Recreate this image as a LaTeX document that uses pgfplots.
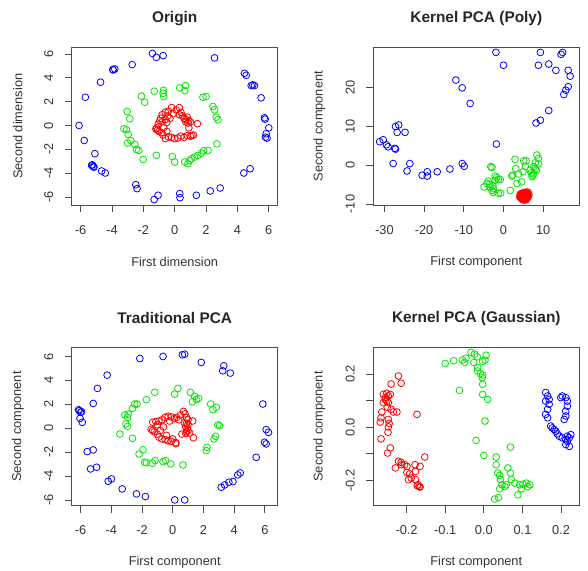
\documentclass[border=0pt]{standalone}
\usepackage{pgfplots}
\pgfplotsset{compat=1.18}
\usepackage{fontspec}
\setmainfont{Liberation Sans}

\definecolor{rblue}{RGB}{0,0,255}
\definecolor{rgreen}{RGB}{0,230,0}
\definecolor{rred}{RGB}{255,0,0}

\pgfplotsset{
  rplot/.style={
    scale only axis, width=206pt, height=158pt,
    axis line style={black!70, line width=0.7pt},
    tick align=outside, major tick length=7pt,
    tick style={black!70, line width=0.7pt},
    xtick pos=bottom, ytick pos=left,
    minor tick num=0,
    font=\fontsize{12.8}{15}\selectfont,
    /pgf/number format/assume math mode=true,
    ticklabel style={text=black!80},
    xticklabel style={anchor=center}, xticklabel shift=18pt,
    yticklabel style={anchor=center, rotate=90}, yticklabel shift=16pt,
    every axis title/.style={at={(axis description cs:0.5,1.184)}, anchor=center,
      font=\fontsize{15.4}{18}\selectfont\bfseries, text=black!85},
    every axis x label/.style={at={(axis description cs:0.5,-0.361)}, anchor=center, text=black!80},
    every axis y label/.style={at={(axis description cs:-0.262,0.5)}, anchor=center, rotate=90, text=black!80},
  },
  rpt/.style={only marks, mark=o, mark size=3.4pt, mark options={line width=0.8pt}},
}

\begin{document}
\begin{tikzpicture}
\useasboundingbox (0pt,0pt) rectangle (588pt,570pt);

% ---- Origin
\begin{axis}[rplot, at={(71.7pt,364.7pt)}, anchor=south west,
  xmin=-6.57, xmax=6.57, ymin=-6.70, ymax=6.56,
  xtick={-6,-4,-2,0,2,4,6}, xticklabels={-6,-4,-2,0,2,4,6},
  ytick={-6,-4,-2,0,2,4,6}, yticklabels={-6,-4,-2,0,2,4,6},
  title={Origin}, xlabel={First dimension}, ylabel={Second dimension}]
\addplot[rpt, rred] coordinates {
(-1.2,-0.3) (-1.1,-0.4) (-1.15,-0.2) (-1.0,-0.5) (-1.05,0.1) (-0.95,0.4) (-0.9,0.6)
(-0.8,0.9) (-0.6,1.1) (-0.4,1.2) (-0.2,1.5) (-0.1,1.0) (0.1,1.3) (0.3,1.5) (0.4,1.1)
(0.5,0.8) (0.6,0.6) (0.7,0.5) (0.8,0.7) (0.9,0.4) (1.0,0.3) (0.85,0.2) (0.7,0.3)
(1.45,0.15) (0.9,-0.2) (1.2,-0.8) (1.0,-0.9) (0.8,-0.85) (0.6,-1.0) (0.4,-0.9)
(0.2,-1.05) (0.0,-1.1) (-0.2,-1.0) (-0.4,-0.95) (-0.6,-1.1) (-0.75,-0.8) (-0.85,-0.6)
(-0.7,-0.2) (-0.5,0.25) (-0.6,0.5) (-0.3,0.6) (-0.8,0.3) (-0.5,-0.5) (1.1,-0.85)
(0.3,0.9) (-0.45,0.8)
};
\addplot[rpt, rgreen] coordinates {
(-3.03,1.17) (-2.86,0.56) (-3.24,-0.28) (-3.07,-0.36) (-2.97,-0.75) (-3.01,-1.48)
(-2.8,-1.26) (-2.54,-1.59) (-2.44,-2.01) (-2.29,-2.09) (-2.12,2.46) (-1.91,1.95)
(-2.01,-2.85) (-1.31,2.87) (-0.74,2.7) (-0.7,2.43) (-0.72,2.95) (-1.17,-2.51)
(-0.15,-2.6) (0.0,-3.07) (0.32,3.15) (0.7,3.35) (0.64,2.93) (0.64,-3.07) (0.85,-3.21)
(1.06,-2.79) (1.27,-2.65) (1.48,-2.51) (1.7,-2.32) (2.12,-2.09) (1.84,-2.12)
(1.8,2.37) (2.0,2.43) (2.44,1.59) (2.54,1.31) (2.65,0.7) (2.76,0.47) (2.69,-1.54)
(0.95,-2.95)
};
\addplot[rpt, rblue] coordinates {
(-6.1,0.0) (-5.77,-1.26) (-5.7,2.37) (-5.09,-2.37) (-5.3,-3.35) (-5.2,-3.45)
(-5.15,-3.5) (-5.25,-3.3) (-4.73,3.63) (-4.66,-3.82) (-4.43,-3.99) (-3.92,4.66)
(-3.82,4.74) (-3.95,4.7) (-2.71,5.11) (-2.48,-4.97) (-2.4,-5.3) (-1.42,6.05)
(-1.17,5.72) (-0.74,5.86) (-1.31,-6.22) (-1.06,-5.86) (0.32,-5.72) (0.34,-6.06)
(1.38,-5.86) (2.27,-5.5) (2.9,-5.25) (2.54,5.67) (4.45,4.38) (4.56,4.21) (4.88,3.35)
(5.09,3.35) (4.98,3.4) (5.51,2.32) (5.72,0.64) (5.77,0.53) (6.0,-0.2) (5.83,-0.7)
(5.79,-0.98) (5.89,-1.06) (4.81,-3.63) (4.41,-3.99)
};
\end{axis}

% ---- Kernel PCA (Poly)
\begin{axis}[rplot, at={(373.3pt,364.7pt)}, anchor=south west,
  xmin=-32.8, xmax=19.1, ymin=-10.3, ymax=30.2,
  xtick={-30,-20,-10,0,10}, xticklabels={-30,-20,-10,0,10},
  ytick={-10,0,10,20}, yticklabels={-10,0,10,20},
  title={Kernel PCA (Poly)}, xlabel={First component}, ylabel={Second component}]
\addplot[rpt, rred] coordinates {
(4.2,-7.5) (4.5,-7.8) (4.8,-8.1) (5.0,-7.6) (5.3,-7.9) (5.5,-8.3) (5.8,-7.8) (6.0,-7.3)
(6.2,-7.0) (5.6,-7.2) (4.4,-8.4) (4.7,-8.7) (5.1,-8.8) (5.4,-8.6) (5.7,-8.9) (6.0,-8.5)
(6.3,-8.0) (4.9,-7.2) (5.2,-7.0) (4.3,-8.0) (4.6,-8.2) (5.0,-8.4) (5.5,-7.5) (5.9,-8.2)
(6.1,-7.7) (4.8,-7.9) (5.3,-8.2) (5.6,-8.0) (4.5,-7.3) (5.8,-6.9) (4.1,-8.2) (4.9,-8.9)
(5.2,-8.5) (5.7,-8.5) (6.4,-7.5) (5.1,-7.8) (4.7,-7.5) (5.4,-7.3) (6.0,-8.0) (5.3,-8.9)
};
\addplot[rpt, rgreen] coordinates {
(-2.9,-0.6) (2.9,1.5) (5.1,1.1) (5.7,1.1) (8.4,2.6) (8.8,1.7) (8.0,0.6) (8.8,0.3)
(7.6,-0.4) (8.3,-1.3) (7.6,-2.2) (7.2,-3.0) (3.8,-2.3) (4.9,-1.7) (5.5,-0.3)
(3.4,-4.7) (4.6,-4.3) (1.7,-6.5) (-0.8,-3.7) (-2.1,-2.8) (-1.7,-3.2) (-1.3,-3.7)
(-4.2,-4.7) (-3.8,-4.1) (-3.4,-5.6) (-2.9,-6.5) (-2.5,-6.0) (-1.3,-7.2) (-0.7,-7.2)
(-2.1,-3.9) (-2.7,-5.2) (6.7,-1.3) (7.4,-2.6) (2.1,-2.8) (-3.2,-0.4) (2.3,-2.6)
(3.1,-0.9) (-2.6,-7.0) (-4.9,-5.6) (7.0,-2.0) (8.0,-0.9) (-3.5,-4.9)
};
\addplot[rpt, rblue] coordinates {
(-1.9,28.9) (0,25.6) (9.3,28.9) (8.8,25.6) (11.4,25.9) (13.2,24.3) (14.5,28.4)
(14.9,28.9) (16.3,24.3) (16.8,22.8) (16.3,20.1) (15.7,19.2) (15.2,18.1) (11.4,14.0)
(9.3,11.5) (8.2,10.8) (-12.0,21.8) (-10.4,19.8) (-8.4,15.8) (-1.8,5.4)
(-27.2,9.9) (-26.4,10.3) (-26.8,8.4) (-24.8,8.4) (-31.2,6.0) (-30.3,6.5) (-29.5,5.2)
(-29.1,4.7) (-27.2,4.1) (-27.4,4.3) (-27.8,0.4) (-23.6,0.4) (-24.3,-1.5) (-20.5,-2.6)
(-19.2,-1.7) (-19.2,-2.8) (-16.7,-1.7) (-13.5,-1.0) (-10.4,0.4) (-9.9,-0.3)
};
\end{axis}

% ---- Traditional PCA
\begin{axis}[rplot, at={(71.7pt,64.5pt)}, anchor=south west,
  xmin=-6.58, xmax=6.84, ymin=-6.47, ymax=6.75,
  xtick={-6,-4,-2,0,2,4,6}, xticklabels={-6,-4,-2,0,2,4,6},
  ytick={-6,-4,-2,0,2,4,6}, yticklabels={-6,-4,-2,0,2,4,6},
  title={Traditional PCA}, xlabel={First component}, ylabel={Second component}]
\addplot[rpt, rred] coordinates {
(-1.3,0.5) (-1.1,0.55) (-0.9,0.6) (-0.7,0.7) (-0.5,0.9) (-0.3,1.0) (-0.1,0.95) (0.1,0.8)
(0.25,0.9) (0.5,1.1) (0.7,1.4) (0.8,1.2) (0.9,0.9) (1.0,0.7) (1.3,0.6) (0.9,0.4)
(0.85,0.1) (0.95,0.0) (1.0,-0.2) (0.9,-0.3) (0.85,-0.45) (1.1,-0.4) (1.35,-0.8)
(-1.4,-0.1) (-1.3,-0.2) (-1.2,-0.3) (-1.0,-0.5) (-0.9,-0.75) (-0.7,-0.9) (-0.5,-0.95)
(-0.3,-1.05) (-0.1,-1.1) (0.2,-1.2) (-0.8,-0.2) (-0.6,0.1) (-1.0,0.3) (0.4,0.7)
(0.6,-0.5) (1.0,0.3) (0.75,0.45) (-0.4,-0.6) (0.0,-0.9) (-0.2,0.6) (0.2,-1.3)
};
\addplot[rpt, rgreen] coordinates {
(-3.44,-0.49) (-3.12,1.1) (-2.9,1.18) (-2.94,0.9) (-3.05,0.35) (-2.94,0.15) (-2.62,-0.85)
(-2.62,1.66) (-2.47,2.02) (-2.32,2.02) (-1.71,2.38) (-1.17,3.0) (-2.19,-2.16)
(-1.93,-1.8) (-1.82,-2.85) (-1.71,-2.9) (-1.32,-2.94) (-1.15,-2.71) (-0.63,-2.8)
(-0.46,-2.71) (-0.13,-2.99) (0.67,-3.08) (0.13,2.85) (0.34,3.33) (1.15,3.0) (1.43,2.66)
(1.69,2.49) (1.28,2.21) (2.47,2.02) (2.62,1.55) (2.84,1.74) (2.94,0.27) (3.05,0.21)
(2.79,-0.68) (2.69,-0.9) (2.23,-1.6) (2.19,-1.88) (1.55,2.4)
};
\addplot[rpt, rblue] coordinates {
(-6.09,1.46) (-6.0,1.32) (-6.13,1.54) (-5.94,1.38) (-6.04,0.82) (-5.89,0.49) (-5.18,2.07)
(-4.9,3.33) (-4.27,4.44) (-5.57,-1.96) (-5.18,-1.82) (-5.35,-3.41) (-4.96,-3.27)
(-4.2,-4.44) (-3.99,-4.25) (-3.29,-5.08) (-2.36,-5.5) (-1.78,-5.72) (-2.14,5.83)
(-0.63,6.0) (0.63,6.14) (0.78,6.19) (0.13,-6.0) (0.78,-6.0) (1.86,5.5) (3.33,5.22)
(3.26,4.8) (3.75,4.61) (3.16,-4.94) (3.38,-4.75) (3.66,-4.52) (3.92,-4.47) (4.24,-3.91)
(4.4,-3.74) (5.44,-2.44) (5.87,2.02) (5.98,-1.18) (6.09,-1.32) (6.09,-0.12) (6.24,-0.35)
};
\end{axis}

% ---- Kernel PCA (Gaussian)
\begin{axis}[rplot, at={(373.3pt,64.5pt)}, anchor=south west,
  xmin=-0.286, xmax=0.247, ymin=-0.294, ymax=0.299,
  xtick={-0.2,-0.1,0,0.1,0.2}, xticklabels={-0.2,-0.1,0.0,0.1,0.2},
  ytick={-0.2,-0.1,0,0.1,0.2}, yticklabels={-0.2,,0.0,,0.2},
  title={Kernel PCA (Gaussian)}, xlabel={First component}, ylabel={Second component}]
\addplot[rpt, rred] coordinates {
(-0.221,0.192) (-0.214,0.165) (-0.240,0.162) (-0.260,0.123) (-0.251,0.127) (-0.247,0.117)
(-0.255,0.111) (-0.251,0.098) (-0.247,0.092) (-0.260,0.092) (-0.242,0.123) (-0.240,0.067)
(-0.234,0.057) (-0.225,0.057) (-0.264,0.057) (-0.266,0.035) (-0.268,0.019) (-0.247,0.029)
(-0.245,0.014) (-0.247,0.001) (-0.248,-0.019) (-0.173,0.048) (-0.266,-0.044)
(-0.242,-0.078) (-0.249,-0.097) (-0.153,-0.112) (-0.221,-0.128) (-0.214,-0.132)
(-0.205,-0.141) (-0.199,-0.147) (-0.229,-0.153) (-0.165,-0.147) (-0.177,-0.166)
(-0.192,-0.175) (-0.188,-0.191) (-0.177,-0.197) (-0.170,-0.216) (-0.167,-0.223)
(-0.195,-0.197) (-0.199,-0.170) (-0.178,-0.141) (-0.213,-0.141) (-0.165,-0.225)
(-0.172,-0.220) (-0.255,0.104) (-0.250,0.075)
};
\addplot[rpt, rgreen] coordinates {
(-0.100,0.239) (-0.078,0.249) (-0.055,0.252) (-0.050,0.243) (-0.046,0.259) (-0.033,0.281)
(-0.024,0.274) (-0.017,0.264) (-0.026,0.243) (-0.016,0.224) (-0.016,0.211) (-0.003,0.247)
(0.006,0.270) (0.003,0.252) (-0.009,0.201) (-0.003,0.196) (-0.004,0.186) (-0.003,0.161)
(-0.003,0.123) (0.010,0.104) (-0.063,0.138) (0.003,0.023) (-0.020,-0.050) (0.0,-0.106)
(0.069,-0.075) (0.032,-0.112) (0.032,-0.141) (0.036,-0.172) (0.041,-0.181) (0.043,-0.197)
(0.047,-0.216) (0.062,-0.153) (0.069,-0.172) (0.071,-0.197) (0.054,-0.223) (0.058,-0.216)
(0.041,-0.231) (0.080,-0.210) (0.093,-0.216) (0.101,-0.214) (0.110,-0.210) (0.119,-0.216)
(0.097,-0.231) (0.088,-0.254) (0.028,-0.270) (0.038,-0.264) (0.114,-0.223)
};
\addplot[rpt, rblue] coordinates {
(0.160,0.130) (0.165,0.117) (0.169,0.104) (0.160,0.098) (0.169,0.086) (0.165,0.067)
(0.160,0.048) (0.165,0.035) (0.173,0.004) (0.177,-0.003) (0.182,-0.009) (0.186,-0.015)
(0.190,-0.025) (0.195,-0.034) (0.203,-0.040) (0.212,-0.047) (0.216,-0.053) (0.221,-0.040)
(0.225,-0.028) (0.216,-0.034) (0.212,-0.065) (0.221,-0.072) (0.199,0.111) (0.203,0.117)
(0.212,0.111) (0.216,0.098) (0.216,0.079) (0.212,0.060) (0.212,0.042) (0.208,0.029)
};
\end{axis}
\end{tikzpicture}
\end{document}
